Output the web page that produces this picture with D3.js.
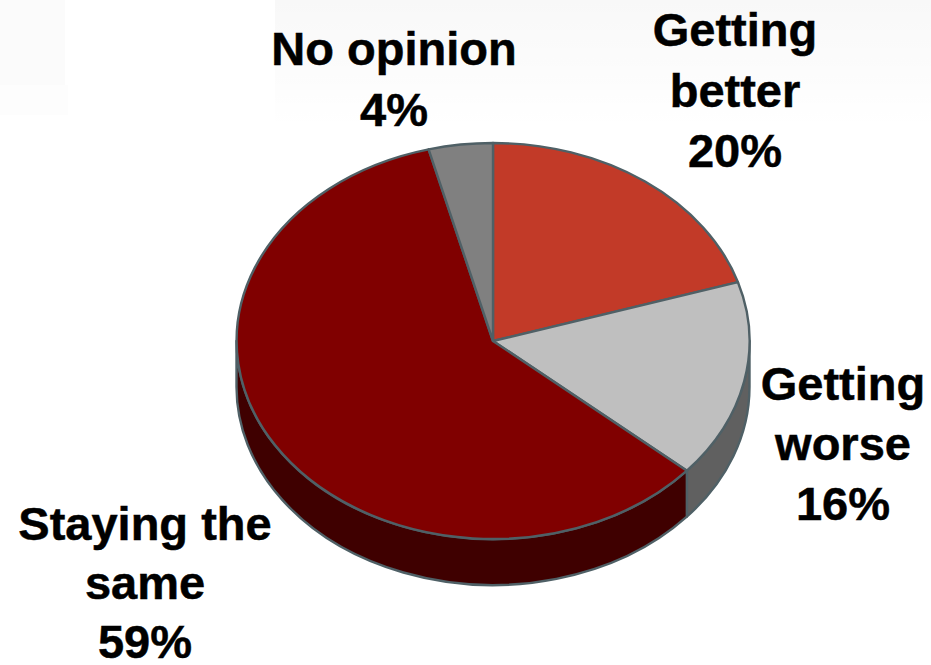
<!DOCTYPE html>
<html><head><meta charset="utf-8">
<script src="https://cdnjs.cloudflare.com/ajax/libs/d3/7.8.5/d3.min.js"></script>
<style>html,body{margin:0;padding:0;background:#fff}svg{display:block}</style></head>
<body><svg id="c" width="931" height="665"></svg>
<script>
const categories = ["Getting better", "Getting worse", "Staying the same", "No opinion"];
const values = [20, 16, 59, 4];
const labelLines = [["Getting","better","20%"],["Getting","worse","16%"],["Staying the","same","59%"],["No opinion","4%"]];
const topColors = ["#c23a28","#bfbfbf","#800000","#808080"];
const sideColors = ["#5c1a12","#606060","#3f0000","#404040"];

const W=931,H=665,cx=493,cy=341,rx=256.5,ry=198,depth=46,stroke="#4f6066";
const labelPos=[[735,46],[843,400],[145,540],[394,65]];
const labelStep=[60.5,60,59,61];
const svg=d3.select("#c");

// faint background wash of the reference
const grad=svg.append("defs").append("linearGradient").attr("id","wash").attr("x1",0).attr("y1",0).attr("x2",0).attr("y2",1);
grad.append("stop").attr("offset",0).attr("stop-color","#000").attr("stop-opacity",.028);
grad.append("stop").attr("offset",1).attr("stop-color","#000").attr("stop-opacity",0);
svg.append("rect").attr("x",275).attr("y",0).attr("width",656).attr("height",130).attr("fill","url(#wash)");
const bg=svg.append("g").attr("fill","#000");
[[0,0,65,85,.016],[0,85,68,30,.008]]
 .forEach(r=>bg.append("rect").attr("x",r[0]).attr("y",r[1]).attr("width",r[2]).attr("height",r[3]).attr("opacity",r[4]));

const slices=d3.pie().sort(null).value(d=>d)(values);
const px=a=>cx+rx*Math.sin(a), py=a=>cy-ry*Math.cos(a);

// side wall (front half of the ellipse only)
const walls=svg.append("g");
slices.forEach((s,i)=>{
  const a0=Math.max(s.startAngle,Math.PI/2), a1=Math.min(s.endAngle,Math.PI*1.5);
  if(a1<=a0) return;
  const large=(a1-a0)>Math.PI?1:0;
  const d=`M${px(a0)},${py(a0)}A${rx},${ry} 0 ${large} 1 ${px(a1)},${py(a1)}`+
          `L${px(a1)},${py(a1)+depth}A${rx},${ry} 0 ${large} 0 ${px(a0)},${py(a0)+depth}Z`;
  walls.append("path").attr("d",d).attr("fill",sideColors[i]).attr("stroke",stroke).attr("stroke-width",2.4).attr("stroke-linejoin","round");
});

// top face: unit arc scaled to the ellipse
const arc=d3.arc().innerRadius(0).outerRadius(1);
svg.append("g").attr("transform",`translate(${cx},${cy}) scale(${rx},${ry})`)
  .selectAll("path").data(slices).join("path")
  .attr("d",arc).attr("fill",(d,i)=>topColors[i])
  .attr("stroke",stroke).attr("stroke-width",2.4).attr("stroke-linejoin","round")
  .attr("vector-effect","non-scaling-stroke");

// labels
const g=svg.append("g").attr("font-family","'Liberation Sans',Arial,sans-serif").attr("font-weight",700).attr("font-size",47).attr("fill","#000").attr("stroke","#000").attr("stroke-width",.5).attr("text-anchor","middle");
labelLines.forEach((ls,i)=>{
  ls.forEach((t,j)=>g.append("text").attr("x",labelPos[i][0]).attr("y",labelPos[i][1]+j*labelStep[i]).text(t));
});
</script></body></html>
